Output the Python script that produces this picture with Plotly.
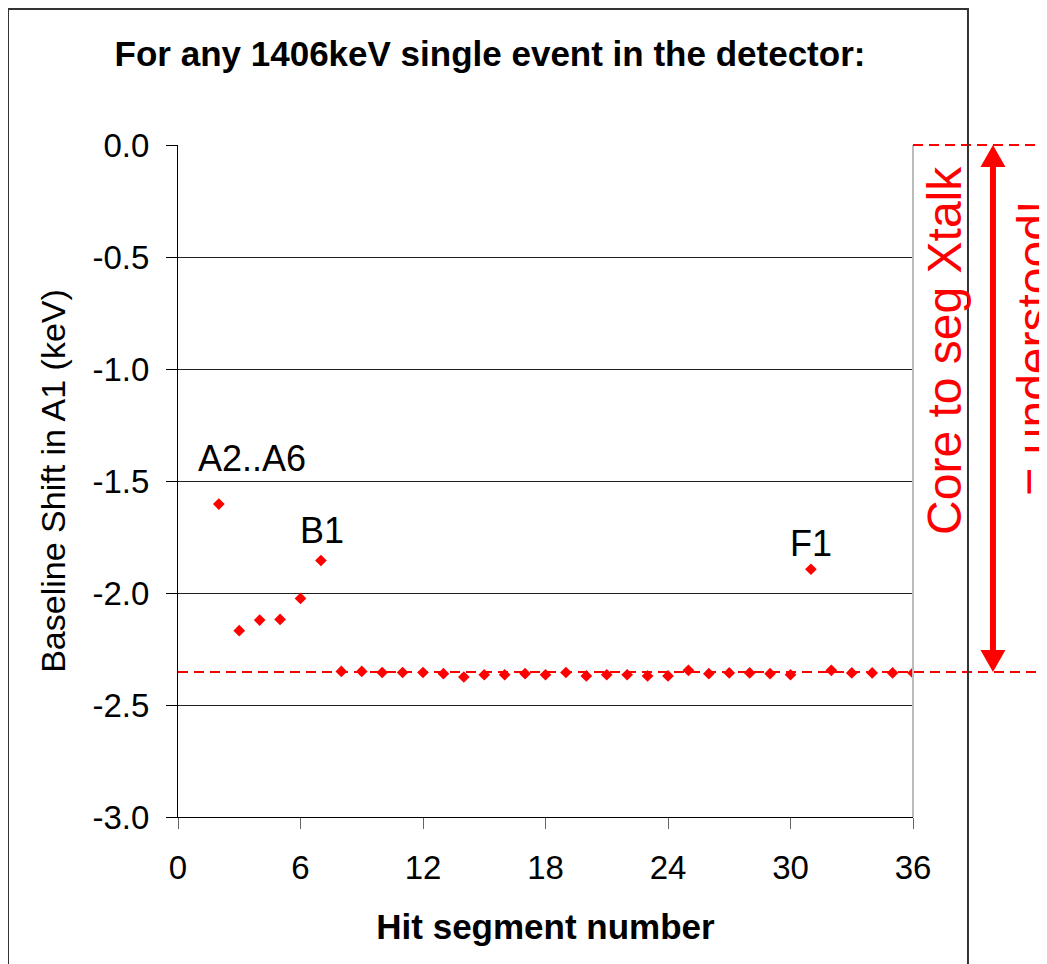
import plotly.graph_objects as go

# ---- data ----
segments = list(range(2, 37))
shift_keV = [-1.603, -2.168, -2.121, -2.118, -2.024, -1.855,
             -2.350, -2.350, -2.355, -2.355, -2.355, -2.360, -2.375,
             -2.365, -2.365, -2.360, -2.365, -2.355, -2.370, -2.365,
             -2.365, -2.370, -2.370, -2.345, -2.360, -2.357, -2.357,
             -2.360, -2.365, -1.894, -2.345, -2.357, -2.357, -2.357,
             -2.357]
baseline_keV = -2.353
x_ticks = [0, 6, 12, 18, 24, 30, 36]
y_ticks = [0.0, -0.5, -1.0, -1.5, -2.0, -2.5, -3.0]
y_ticktext = ["0.0", "-0.5", "-1.0", "-1.5", "-2.0", "-2.5", "-3.0"]
point_labels = [("A2..A6", 2), ("B1", 7), ("F1", 31)]

FONT = "Arial, Liberation Sans, sans-serif"
RED = "#FF0000"

fig = go.Figure()
fig.add_trace(go.Scatter(
    x=segments, y=shift_keV, mode="markers",
    marker=dict(symbol="diamond", size=9, color=RED, line=dict(width=0)),
    showlegend=False, hoverinfo="x+y",
))

label_shift = {"A2..A6": (33, 46), "B1": (1, 30), "F1": (0, 26)}
annotations = []
for text, seg in point_labels:
    val = shift_keV[segments.index(seg)]
    dx, dy = label_shift[text]
    annotations.append(dict(x=seg, y=val, xref="x", yref="y", text=text,
                            showarrow=False, xshift=dx, yshift=dy,
                            xanchor="center", yanchor="middle",
                            font=dict(family=FONT, size=36, color="black")))

annotations.append(dict(x=1.0435, y=0.695, xref="paper", yref="paper",
                        xanchor="center", yanchor="middle",
                        text="Core to seg Xtalk", textangle=-90, showarrow=False,
                        font=dict(family=FONT, size=48, color=RED)))
annotations.append(dict(x=1.166, y=0.697, xref="paper", yref="paper",
                        xanchor="center", yanchor="middle",
                        text="= understood!", textangle=-90, showarrow=False,
                        font=dict(family=FONT, size=48, color=RED)))

arrow_x = 1.1088
head_w = 0.017
head_h = 0.098
shapes = [
    # right plot-area border (light gray)
    dict(type="line", xref="paper", yref="paper", x0=1, x1=1, y0=0, y1=1,
         line=dict(color="#BBBBBB", width=2)),
    # baseline dashed line
    dict(type="line", xref="paper", yref="y", x0=0, x1=1.35,
         y0=baseline_keV, y1=baseline_keV,
         line=dict(color=RED, width=2, dash="10px,6px")),
    # top dashed line
    dict(type="line", xref="paper", yref="paper", x0=1, x1=1.35, y0=1, y1=1,
         line=dict(color=RED, width=2, dash="10px,6px")),
    # arrow shaft
    dict(type="line", xref="paper", yref="y", x0=arrow_x, x1=arrow_x,
         y0=-head_h * 0.8, y1=baseline_keV + head_h * 0.8,
         line=dict(color=RED, width=6)),
    # arrow heads
    dict(type="path", xref="paper", yref="y",
         path=f"M {arrow_x - head_w},{-head_h} L {arrow_x + head_w},{-head_h} L {arrow_x},0 Z",
         fillcolor=RED, line=dict(color=RED, width=0)),
    dict(type="path", xref="paper", yref="y",
         path=(f"M {arrow_x - head_w},{baseline_keV + head_h} L {arrow_x + head_w},"
               f"{baseline_keV + head_h} L {arrow_x},{baseline_keV} Z"),
         fillcolor=RED, line=dict(color=RED, width=0)),
    # outer chart border
    dict(type="rect", xref="paper", yref="paper", x0=-0.2313, x1=1.0748,
         y0=-0.26, y1=1.2024, line=dict(color="#333333", width=2)),
]

fig.update_layout(
    width=1047, height=964,
    margin=dict(l=170, r=142, t=137, b=155),
    paper_bgcolor="white", plot_bgcolor="white",
    font=dict(family=FONT, color="black"),
    title=dict(text="<b>For any 1406keV single event in the detector:</b>",
               x=(490 - 8) / 1047, xref="container", xanchor="center",
               y=1 - (54 - 8) / 964, yref="container", yanchor="middle",
               font=dict(family=FONT, size=35, color="black")),
    xaxis=dict(range=[0, 36], tickmode="array", tickvals=x_ticks,
               ticks="outside", ticklen=11, tickcolor="#666666", tickwidth=1,
               showline=True, linecolor="black", linewidth=1,
               showgrid=False, zeroline=False, ticklabelstandoff=10,
               tickfont=dict(family=FONT, size=33, color="black"),
               title=dict(text="<b>Hit segment number</b>", standoff=29,
                          font=dict(family=FONT, size=35, color="black"))),
    yaxis=dict(range=[-3, 0], tickmode="array", tickvals=y_ticks,
               ticktext=y_ticktext,
               ticks="outside", ticklen=11, tickcolor="black", tickwidth=1,
               showline=True, linecolor="black", linewidth=1,
               showgrid=True, gridcolor="#222222", gridwidth=1, zeroline=False,
               ticklabelstandoff=10,
               tickfont=dict(family=FONT, size=33, color="black"),
               title=dict(text="Baseline Shift in A1 (keV)", standoff=16,
                          font=dict(family=FONT, size=34, color="black"))),
    annotations=annotations,
    shapes=shapes,
)

fig.write_html("out.html")
